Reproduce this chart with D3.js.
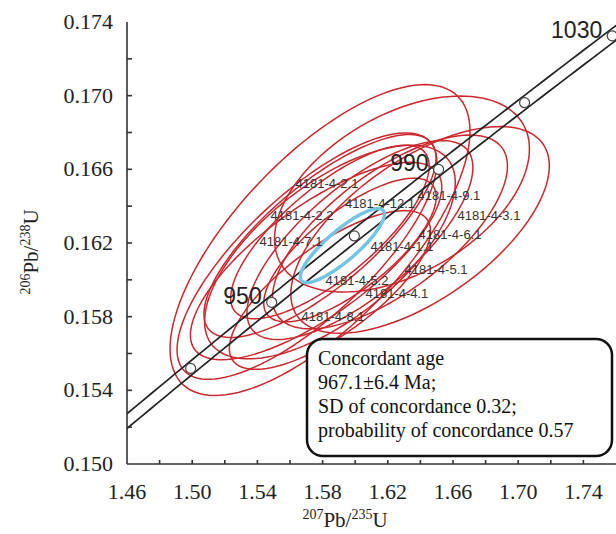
<!DOCTYPE html>
<html>
<head>
<meta charset="utf-8">
<script src="https://cdn.jsdelivr.net/npm/d3@7"></script>
<style>
  body { margin: 0; background: #fff; }
  svg { display: block; }
</style>
</head>
<body>
<svg id="chart" width="616" height="534"></svg>
<script>
// U-Pb concordia plot, zircon spots from sample 4181-4

// spot names and isotope ratios (2 sigma half widths, error correlation)
const spots  = ["4181-4-2.1", "4181-4-12.1", "4181-4-3.1", "4181-4-2.2", "4181-4-7.1", "4181-4-9.1",
                "4181-4-5.2", "4181-4-6.1", "4181-4-1.1", "4181-4-5.1", "4181-4-8.1", "4181-4-4.1"];
const pb207u235 = [1.5784, 1.6287, 1.6398, 1.5704, 1.5760, 1.5784, 1.5845, 1.5845, 1.6029, 1.6213, 1.5845, 1.5968];
const pb206u238 = [0.16216, 0.16466, 0.16271, 0.16129, 0.16102, 0.16238, 0.16151, 0.16260, 0.16216, 0.16260, 0.15945, 0.16162];
const err75  = [0.0920, 0.0782, 0.0793, 0.0797, 0.0771, 0.0712, 0.0769, 0.0609, 0.0693, 0.0721, 0.0617, 0.0529];
const err68  = [0.00844, 0.00532, 0.00561, 0.00669, 0.00536, 0.00551, 0.00580, 0.00471, 0.00540, 0.00526, 0.00431, 0.00390];
const rho    = [0.70, 0.46, 0.62, 0.76, 0.75, 0.77, 0.65, 0.76, 0.73, 0.68, 0.74, 0.74];

// where the spot names sit (ratio units)
const labelSpots = ["4181-4-2.1", "4181-4-12.1", "4181-4-3.1", "4181-4-2.2", "4181-4-7.1", "4181-4-9.1",
                    "4181-4-5.2", "4181-4-6.1", "4181-4-1.1", "4181-4-5.1", "4181-4-8.1", "4181-4-4.1"];
const labelX = [1.5827, 1.6152, 1.6821, 1.5674, 1.5606, 1.6575, 1.6011, 1.6582, 1.6287, 1.6496, 1.5864, 1.6256];
const labelY = [0.16515, 0.16406, 0.16341, 0.16341, 0.16205, 0.16450, 0.15988, 0.16243, 0.16173, 0.16048, 0.15793, 0.15918];

// concordant age ellipse
const concX = 1.5921, concY = 0.16186, concErrX = 0.0258, concErrY = 0.00201, concRho = 0.85;

// concordia: decay constants (per Ma) and band half width
const lambda238 = 1.55125e-4;
const lambda235 = 9.8485e-4;
const bandHalf = 0.0004;
const ageMarks = [930, 950, 970, 990, 1010, 1030];
const ageLabels = [950, 990, 1030];

// axes
const xTickLabels = [1.46, 1.50, 1.54, 1.58, 1.62, 1.66, 1.70, 1.74];
const xMinor = [1.48, 1.50, 1.52, 1.54, 1.56, 1.58, 1.60, 1.62, 1.64, 1.66, 1.68, 1.70, 1.72, 1.74];
const yTickLabels = [0.150, 0.154, 0.158, 0.162, 0.166, 0.170, 0.174];
const yMinor = [0.152, 0.154, 0.156, 0.158, 0.160, 0.162, 0.164, 0.166, 0.168, 0.170, 0.172];

const boxLines = ["Concordant age", "967.1\u00b16.4 Ma;", "SD of concordance 0.32;", "probability of concordance 0.57"];

const svg = d3.select("#chart");
const serif = "'Liberation Serif', 'Times New Roman', serif";
const sans = "'Liberation Sans', Arial, sans-serif";

const x = d3.scaleLinear().domain([1.46, 1.76]).range([127, 616]);
const y = d3.scaleLinear().domain([0.150, 0.174]).range([464, 22]);

svg.append("clipPath").attr("id", "plotArea")
   .append("rect")
   .attr("x", x(1.46)).attr("y", 0)
   .attr("width", x(1.76) - x(1.46)).attr("height", y(0.150));

const line = d3.line().x(d => x(d[0])).y(d => y(d[1]));

function ellipsePts(cx, cy, ex, ey, r){
	const pts = [];
	const k = Math.sqrt(1 - r * r);
	for (let a = 0; a < 360; a += 3){
		const t = a * Math.PI / 180;
		pts.push([cx + ex * Math.cos(t), cy + ey * (r * Math.cos(t) + k * Math.sin(t))]);
	}
	return pts;
}

const plot = svg.append("g").attr("clip-path", "url(#plotArea)");

//Error ellipses
plot.selectAll("path.spot")
    .data(spots)
    .enter()
    .append("path")
    .attr("class", "spot")
    .attr("d", (d, i) => line.curve(d3.curveLinearClosed)(ellipsePts(pb207u235[i], pb206u238[i], err75[i], err68[i], rho[i])))
    .attr("fill", "none")
    .attr("stroke", "#cc272d")
    .attr("stroke-width", 1.5);

//Concordia band
const ages = d3.range(880, 1061, 2);
const conc = t => [Math.exp(lambda235 * t) - 1, Math.exp(lambda238 * t) - 1];
[bandHalf, -bandHalf].forEach(off => {
	plot.append("path")
	    .attr("d", line.curve(d3.curveLinear)(ages.map(t => [conc(t)[0], conc(t)[1] + off])))
	    .attr("fill", "none")
	    .attr("stroke", "#222")
	    .attr("stroke-width", 1.7);
});

//Concordant age ellipse
plot.append("path")
    .attr("d", line.curve(d3.curveLinearClosed)(ellipsePts(concX, concY, concErrX, concErrY, concRho)))
    .attr("fill", "none")
    .attr("stroke", "#74c4e4")
    .attr("stroke-width", 3.5);

//Age marks
plot.selectAll("circle.age")
    .data(ageMarks)
    .enter()
    .append("circle")
    .attr("class", "age")
    .attr("cx", d => x(conc(d)[0]))
    .attr("cy", d => y(conc(d)[1]))
    .attr("r", 5)
    .attr("fill", "#fff")
    .attr("stroke", "#444")
    .attr("stroke-width", 1.2);

svg.selectAll("text.age")
   .data(ageLabels)
   .enter()
   .append("text")
   .attr("class", "age")
   .attr("x", d => x(conc(d)[0]) - 10)
   .attr("y", d => y(conc(d)[1]) + 2)
   .attr("text-anchor", "end")
   .attr("font-family", sans)
   .attr("font-size", 23)
   .attr("fill", "#222")
   .text(d => d);

//Spot names
svg.selectAll("text.spot")
   .data(labelSpots)
   .enter()
   .append("text")
   .attr("class", "spot")
   .attr("x", (d, i) => x(labelX[i]))
   .attr("y", (d, i) => y(labelY[i]))
   .attr("text-anchor", "middle")
   .attr("dominant-baseline", "middle")
   .attr("font-family", sans)
   .attr("font-size", 13)
   .attr("fill", "#333")
   .text(d => d);

//Axes
const axes = svg.append("g").attr("stroke", "#333").attr("stroke-width", 1.6);
axes.append("line").attr("x1", x(1.46)).attr("x2", 616).attr("y1", y(0.150)).attr("y2", y(0.150));
axes.append("line").attr("x1", x(1.46)).attr("x2", x(1.46)).attr("y1", y(0.150)).attr("y2", y(0.174));
axes.selectAll("line.xt").data(xMinor).enter().append("line")
    .attr("x1", d => x(d)).attr("x2", d => x(d))
    .attr("y1", y(0.150)).attr("y2", y(0.150) - 4);
axes.selectAll("line.yt").data(yMinor).enter().append("line")
    .attr("x1", x(1.46)).attr("x2", x(1.46) + 5)
    .attr("y1", d => y(d)).attr("y2", d => y(d));

svg.selectAll("text.xt")
   .data(xTickLabels)
   .enter()
   .append("text")
   .attr("x", d => x(d))
   .attr("y", 499)
   .attr("text-anchor", "middle")
   .attr("font-family", serif)
   .attr("font-size", 22)
   .attr("fill", "#222")
   .text(d => d.toFixed(2));

svg.selectAll("text.yt")
   .data(yTickLabels)
   .enter()
   .append("text")
   .attr("x", 113)
   .attr("y", d => y(d) + 7)
   .attr("text-anchor", "end")
   .attr("font-family", serif)
   .attr("font-size", 22)
   .attr("fill", "#222")
   .text(d => d.toFixed(3));

//Axis titles
function isoTitle(g, sup1, main1, sup2, main2){
	g.append("tspan").attr("font-size", 14).attr("dy", -8).text(sup1);
	g.append("tspan").attr("font-size", 21).attr("dy", 8).text(main1);
	g.append("tspan").attr("font-size", 14).attr("dy", -8).text(sup2);
	g.append("tspan").attr("font-size", 21).attr("dy", 8).text(main2);
}
const xTitle = svg.append("text")
    .attr("x", 345).attr("y", 527)
    .attr("text-anchor", "middle")
    .attr("font-family", serif)
    .attr("fill", "#222");
isoTitle(xTitle, "207", "Pb/", "235", "U");

const yTitle = svg.append("text")
    .attr("transform", "translate(38,252) rotate(-90)")
    .attr("text-anchor", "middle")
    .attr("font-family", serif)
    .attr("fill", "#222");
isoTitle(yTitle, "206", "Pb/", "238", "U");

//Result box
svg.append("rect")
   .attr("x", 307).attr("y", 339)
   .attr("width", 305).attr("height", 117)
   .attr("rx", 16)
   .attr("fill", "#fff")
   .attr("stroke", "#111")
   .attr("stroke-width", 2.5);

svg.selectAll("text.box")
   .data(boxLines)
   .enter()
   .append("text")
   .attr("class", "box")
   .attr("x", 318)
   .attr("y", (d, i) => 365 + i * 24)
   .attr("font-family", serif)
   .attr("font-size", 20)
   .attr("fill", "#111")
   .text(d => d);
</script>
</body>
</html>
